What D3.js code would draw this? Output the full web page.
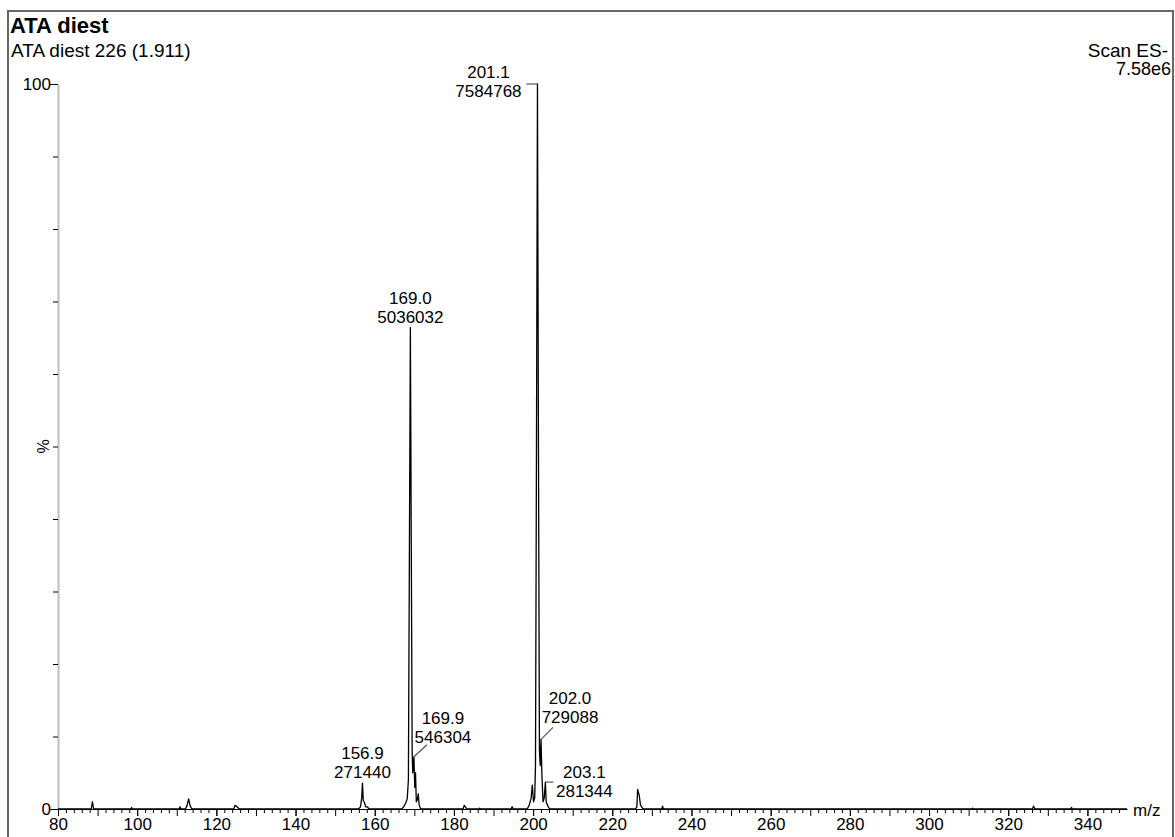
<!DOCTYPE html>
<html>
<head>
<meta charset="utf-8">
<script src="https://cdn.jsdelivr.net/npm/d3@7"></script>
<style>
  body { margin: 0; background: #fff; }
  svg { display: block; font-family: Arial, 'Liberation Sans', sans-serif; }
</style>
</head>
<body>
<div id="chart"></div>
<script>
// profile trace: [m/z, % of base peak]
const profile = [
  [80, 0], [88.4, 0], [88.7, 1.0], [89.0, 0],
  [98.4, 0], [98.6, 0.2], [98.8, 0],
  [110.6, 0], [110.8, 0.3], [111.0, 0],
  [112.2, 0], [112.6, 0.5], [113.0, 1.4], [113.3, 0.6], [113.6, 0.2], [113.9, 0],
  [124.4, 0], [124.7, 0.5], [125.0, 0.4], [125.4, 0.2], [125.8, 0],
  [155.9, 0], [156.4, 0.3], [156.7, 1.5], [156.9, 3.58], [157.1, 1.2], [157.4, 0.9], [157.7, 0.3], [158.2, 0.3], [158.5, 0],
  [166.8, 0], [167.3, 0.3], [167.8, 0.8], [168.2, 1.4], [168.5, 4], [168.75, 35], [169.0, 66.4], [169.2, 40],
  [169.45, 8], [169.6, 5], [169.9, 7.2], [170.1, 3], [170.3, 5], [170.5, 1], [170.7, 1.2], [171.0, 2.1], [171.2, 0.6], [171.6, 0],
  [182.3, 0], [182.6, 0.5], [182.9, 0.3], [183.2, 0],
  [186.3, 0], [186.5, 0.1], [186.7, 0],
  [194.4, 0], [194.7, 0.3], [195.0, 0],
  [198.5, 0], [199.0, 0.5], [199.5, 1.5], [199.8, 3.3], [200.1, 1], [200.4, 1.5], [200.6, 6], [200.85, 50], [201.1, 100],
  [201.35, 50], [201.6, 8], [201.8, 6], [202.0, 9.61], [202.2, 5], [202.5, 1], [202.8, 1.5], [203.1, 3.71], [203.3, 1], [203.6, 0.6], [203.9, 0.2], [204.3, 0],
  [225.9, 0], [226.2, 0.3], [226.4, 2.7], [226.6, 2.3], [226.8, 1.9], [227.1, 0.6], [227.4, 0.3], [227.8, 0],
  [232.5, 0], [232.7, 0.4], [232.9, 0],
  [310.8, 0], [311.0, 0.1], [311.2, 0],
  [326.1, 0], [326.4, 0.4], [326.7, 0],
  [335.8, 0], [336.0, 0.2], [336.2, 0],
  [350, 0]
];

// labelled peaks
const labelMz = [201.1, 169.0, 169.9, 156.9, 202.0, 203.1];
const labelCounts = [7584768, 5036032, 546304, 271440, 729088, 281344];
const basePeak = 7584768;

const xTickLabels = [80, 100, 120, 140, 160, 180, 200, 220, 240, 260, 280, 300, 320, 340];
const yTickLabels = [0, 100];

// where each peak label sits relative to its peak top (px), and its leader line
const labelLayout = [
  { dx: -49, by: 13, link: [[0, 0], [-11, 0]] },
  { dx: 0, by: -5, link: null },
  { dx: 29, by: -14, link: [[0, 0], [13, -12]] },
  { dx: 0, by: -5, link: null },
  { dx: 29, by: -16, link: [[0, 0], [12, -12]] },
  { dx: 39, by: 15, link: [[0, 0], [8, 0]] }
];

class SpectrumChart {
  constructor(_config) {
    this.config = {
      parentElement: _config.parentElement,
      containerWidth: 1175,
      containerHeight: 837,
      plot: { left: 58, right: 1127, top: 84, bottom: 809 },
      fontSize: 17,
      lineGap: 19
    };
    this.initVis();
  }

  initVis() {
    let vis = this;
    const p = vis.config.plot;

    vis.svg = d3.select(vis.config.parentElement)
      .append('svg')
        .attr('width', vis.config.containerWidth)
        .attr('height', vis.config.containerHeight);

    vis.xScale = d3.scaleLinear().domain([80, 350]).range([p.left, p.right]);
    vis.yScale = d3.scaleLinear().domain([0, 100]).range([p.bottom, p.top]);

    // frame
    vis.svg.append('rect')
      .attr('x', 8).attr('y', 11)
      .attr('width', 1165).attr('height', 840)
      .attr('fill', 'none')
      .attr('stroke', '#666')
      .attr('stroke-width', 2);

    // headings
    vis.svg.append('text')
      .attr('x', 10).attr('y', 33)
      .style('font-size', '22px').style('font-weight', 'bold')
      .text('ATA diest');
    vis.svg.append('text')
      .attr('x', 11).attr('y', 57)
      .style('font-size', '19px')
      .text('ATA diest 226 (1.911)');
    vis.svg.append('text')
      .attr('x', 1168).attr('y', 57)
      .attr('text-anchor', 'end')
      .style('font-size', '19px')
      .text('Scan ES-');
    vis.svg.append('text')
      .attr('x', 1171).attr('y', 75)
      .attr('text-anchor', 'end')
      .style('font-size', '18px')
      .text(d3.format('.2e')(basePeak).replace('e+', 'e'));

    vis.renderVis();
  }

  renderVis() {
    let vis = this;
    const p = vis.config.plot;
    const fs = vis.config.fontSize + 'px';

    // y axis
    const yAxisG = vis.svg.append('g')
      .attr('transform', `translate(${p.left},0)`)
      .call(d3.axisLeft(vis.yScale)
        .tickValues(d3.range(0, 101, 10))
        .tickSize(5)
        .tickSizeOuter(0)
        .tickPadding(3)
        .tickFormat(d => yTickLabels.includes(d) ? d : ''));
    yAxisG.select('.domain').attr('stroke', '#bdbdbd').attr('stroke-width', 2);
    yAxisG.selectAll('.tick line').attr('stroke', '#000')
      .attr('x2', d => yTickLabels.includes(d) ? -8 : -5);
    yAxisG.selectAll('.tick text')
      .attr('x', d => yTickLabels.includes(d) ? -7 : -8)
      .style('font-size', fs).attr('fill', '#000')
      .style('font-family', 'Arial, "Liberation Sans", sans-serif');

    vis.svg.append('text')
      .attr('transform', `translate(49, ${vis.yScale(50)}) rotate(-90)`)
      .attr('text-anchor', 'middle')
      .style('font-size', '16px')
      .text('%');

    // x axis: minor ticks every 2, medium every 10, labelled every 20
    const xMinor = vis.svg.append('g')
      .attr('transform', `translate(0,${p.bottom})`)
      .call(d3.axisBottom(vis.xScale)
        .tickValues(d3.range(82, 350, 2))
        .tickSize(4)
        .tickSizeOuter(0)
        .tickFormat(''));
    xMinor.select('.domain').remove();
    xMinor.selectAll('.tick line')
      .attr('y2', d => d % 10 === 0 ? 7 : 4);

    const xAxisG = vis.svg.append('g')
      .attr('transform', `translate(0,${p.bottom})`)
      .call(d3.axisBottom(vis.xScale)
        .tickValues(xTickLabels)
        .tickSize(7)
        .tickSizeOuter(0)
        .tickPadding(2));
    xAxisG.select('.domain').attr('stroke', '#000');
    xAxisG.selectAll('.tick text')
      .style('font-size', fs).attr('fill', '#000')
      .style('font-family', 'Arial, "Liberation Sans", sans-serif');

    vis.svg.append('text')
      .attr('x', p.right + 6).attr('y', p.bottom + 7)
      .style('font-size', fs)
      .text('m/z');

    // spectrum trace
    const line = d3.line()
      .x(d => vis.xScale(d[0]))
      .y(d => vis.yScale(d[1]));

    vis.svg.append('path')
      .datum(profile)
      .attr('d', line)
      .attr('fill', 'none')
      .attr('stroke', '#000')
      .attr('stroke-width', 1.3)
      .attr('stroke-linejoin', 'round');

    // peak labels
    const peaks = labelMz.map((mz, i) => ({
      mz: mz,
      count: labelCounts[i],
      pct: labelCounts[i] / basePeak * 100,
      lay: labelLayout[i]
    }));

    const lab = vis.svg.selectAll('.peak-label')
      .data(peaks)
      .join('g')
        .attr('class', 'peak-label')
        .attr('transform', d => `translate(${vis.xScale(d.mz)},${vis.yScale(d.pct)})`);

    lab.filter(d => d.lay.link)
      .append('path')
        .attr('d', d => d3.line()(d.lay.link))
        .attr('fill', 'none')
        .attr('stroke', '#555')
        .attr('stroke-width', 1.2);

    lab.append('text')
      .attr('x', d => d.lay.dx)
      .attr('y', d => d.lay.by - vis.config.lineGap)
      .attr('text-anchor', 'middle')
      .style('font-size', fs)
      .text(d => d.mz.toFixed(1));

    lab.append('text')
      .attr('x', d => d.lay.dx)
      .attr('y', d => d.lay.by)
      .attr('text-anchor', 'middle')
      .style('font-size', fs)
      .text(d => d.count);
  }
}

const chart = new SpectrumChart({ parentElement: '#chart' });
</script>
</body>
</html>
